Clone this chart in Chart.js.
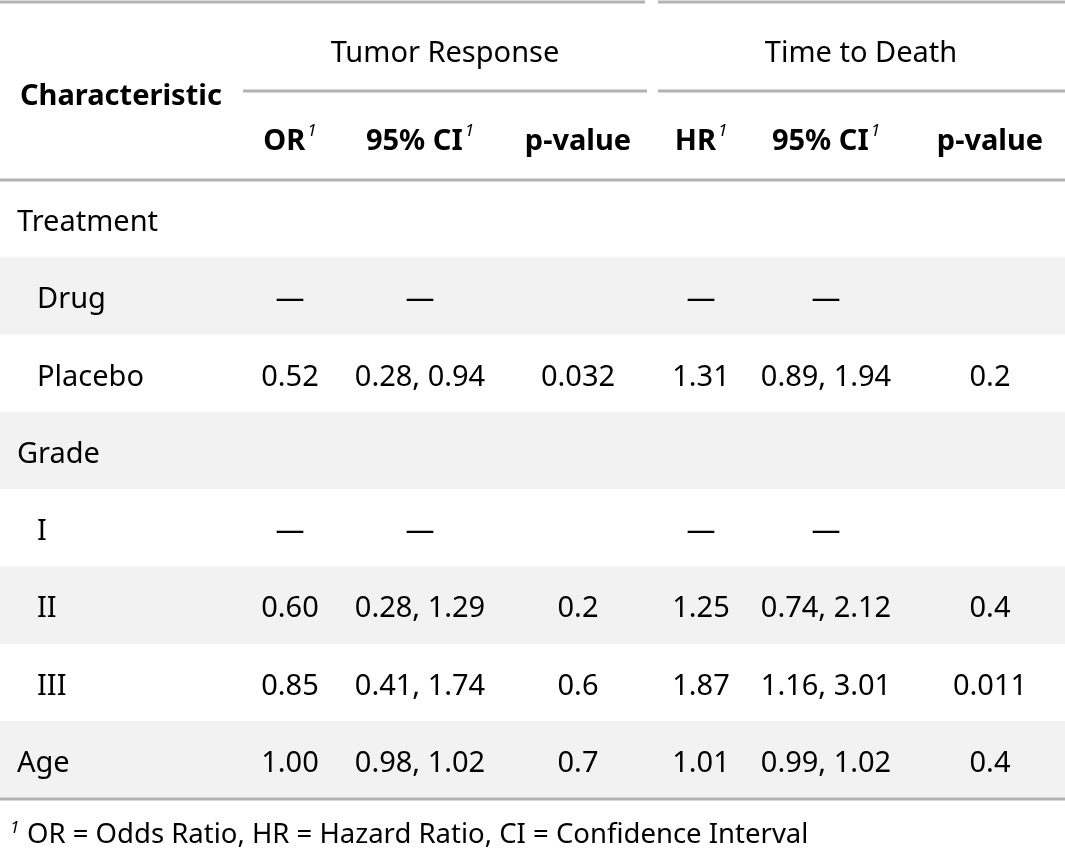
<!DOCTYPE html>
<html><head><meta charset="utf-8">
<script src="https://cdn.jsdelivr.net/npm/chart.js@4"></script>
<style>html,body{margin:0;padding:0;background:#fff}#w{width:1065px;height:858px}</style>
</head><body><div id="w"><canvas id="c"></canvas></div>
<script>
const labels = ["Treatment","Drug","Placebo","Grade","I","II","III","Age"];
const indent = [false,true,true,false,true,true,true,false];
const orVals = ["","—","0.52","","—","0.60","0.85","1.00"];
const orCI = ["","—","0.28, 0.94","","—","0.28, 1.29","0.41, 1.74","0.98, 1.02"];
const orP = ["","","0.032","","","0.2","0.6","0.7"];
const hrVals = ["","—","1.31","","—","1.25","1.87","1.01"];
const hrCI = ["","—","0.89, 1.94","","—","0.74, 2.12","1.16, 3.01","0.99, 1.02"];
const hrP = ["","","0.2","","","0.4","0.011","0.4"];
const spanners = ["Tumor Response","Time to Death"];
const colHeads = [["OR",true],["95% CI",true],["p-value",false],["HR",true],["95% CI",true],["p-value",false]];
const footnote = "OR = Odds Ratio, HR = Hazard Ratio, CI = Confidence Interval";

const colX = [290,420,578,701,826,990];
const F = '"Noto Sans", "Open Sans", sans-serif';
const tablePlugin = {
  id:'table',
  beforeDraw(ch){
    const ctx = ch.ctx, xs = ch.scales.x, ys = ch.scales.y;
    const X = v=>xs.getPixelForValue(v), Y = v=>ys.getPixelForValue(v+4);
    const YL = v=>ys.getPixelForValue(v);
    ctx.save();
    ctx.fillStyle='#fff'; ctx.fillRect(0,0,ch.width,ch.height);
    const top=180, rh=77.3;
    labels.forEach((l,i)=>{
      if(i%2===1){ctx.fillStyle='#f2f2f2';ctx.fillRect(X(0),YL(top+i*rh),X(1065)-X(0),YL(top+(i+1)*rh)-YL(top+i*rh));}
    });
    ctx.strokeStyle='#b3b3b3';ctx.lineWidth=3;
    const line=(a,b,y)=>{ctx.beginPath();ctx.moveTo(X(a),YL(y));ctx.lineTo(X(b),YL(y));ctx.stroke();};
    line(0,645,2);line(658,1065,2);
    line(243,647,91);line(658,1065,91);
    line(0,1065,180);line(0,1065,799);
    ctx.fillStyle='#000';ctx.textBaseline='middle';
    ctx.font='29px '+F;ctx.textAlign='center';
    ctx.fillText(spanners[0],X(445),Y(50));ctx.fillText(spanners[1],X(861),Y(50));
    ctx.font='bold 29px '+F;ctx.textAlign='left';
    ctx.fillText("Characteristic",X(20),Y(93));
    colHeads.forEach((h,j)=>{
      ctx.font='bold 29px '+F;
      const w=ctx.measureText(h[0]).width; ctx.font='italic 17px '+F;
      const sw=h[1]?ctx.measureText("1").width+2:0;
      const x0=X(colX[j])-(w+sw)/2;
      ctx.font='bold 29px '+F;ctx.textAlign='left';ctx.fillText(h[0],x0,Y(138));
      if(h[1]){ctx.font='italic 17px '+F;ctx.fillText("1",x0+w+2,Y(127));}
    });
    ctx.font='29px '+F;
    const cols=[orVals,orCI,orP,hrVals,hrCI,hrP];
    labels.forEach((l,i)=>{
      const yc=Y(top+(i+0.5)*rh);
      ctx.textAlign='left';ctx.fillText(l,X(indent[i]?37:17),yc);
      ctx.textAlign='center';
      cols.forEach((c,j)=>{if(c[i])ctx.fillText(c[i],X(colX[j]),yc);});
    });
    ctx.textAlign='left';ctx.font='italic 17px '+F;ctx.fillText("1",X(10),Y(824));
    ctx.font='27.5px '+F;ctx.fillText(footnote,X(27),Y(831));
    ctx.restore();
  }
};
new Chart(document.getElementById('c'),{
  type:'scatter',
  data:{datasets:[{data:[],pointRadius:0}]},
  options:{responsive:true,maintainAspectRatio:false,animation:false,
    layout:{padding:0},
    plugins:{legend:{display:false},tooltip:{enabled:false}},
    scales:{x:{type:'linear',min:0,max:1065,display:false},
            y:{type:'linear',min:0,max:858,reverse:true,display:false}}},
  plugins:[tablePlugin]
});
</script></body></html>
